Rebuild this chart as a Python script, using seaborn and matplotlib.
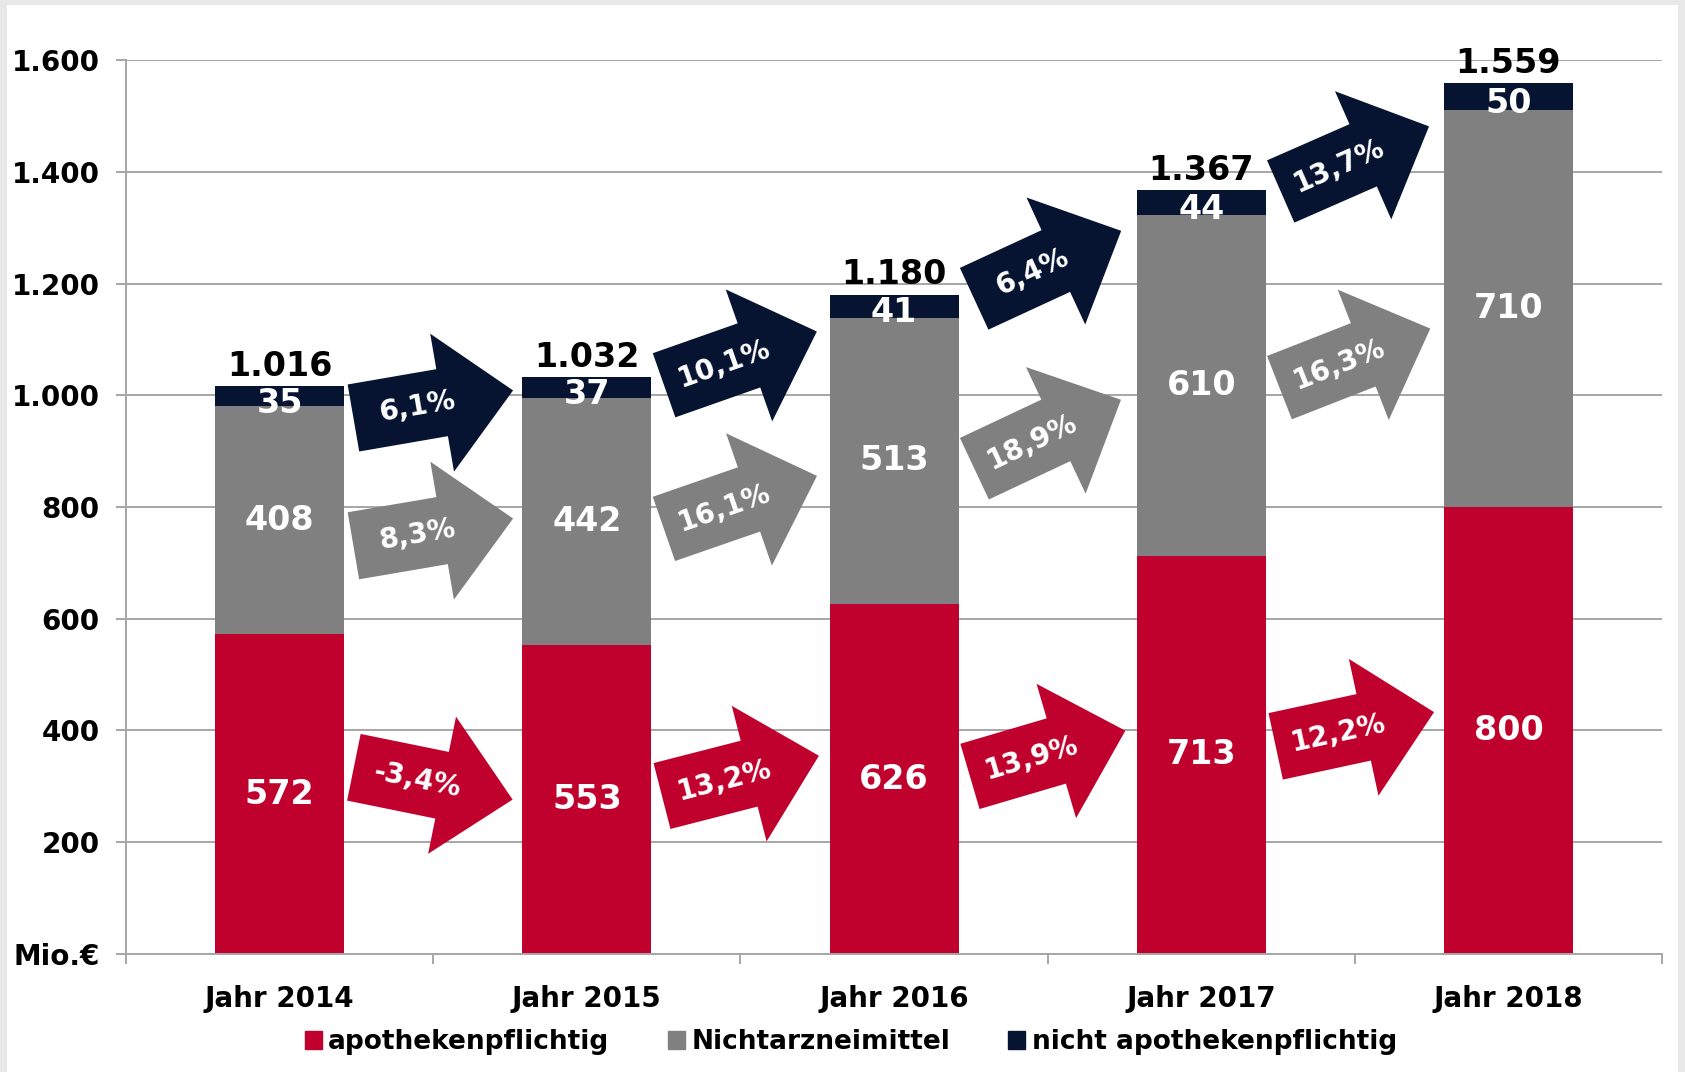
import matplotlib.pyplot as plt
import matplotlib.transforms as mtransforms
from matplotlib.patches import Polygon, Patch, Rectangle
import numpy as np
import pandas as pd
import seaborn as sns

# values (Mio. EUR)
years = ["Jahr 2014", "Jahr 2015", "Jahr 2016", "Jahr 2017", "Jahr 2018"]
apothekenpflichtig = [572, 553, 626, 713, 800]
nichtarzneimittel = [408, 442, 513, 610, 710]
nicht_apothekenpflichtig = [35, 37, 41, 44, 50]
totals = [1016, 1032, 1180, 1367, 1559]

# year-on-year growth shown in the arrows
growth_red = ["-3,4%", "13,2%", "13,9%", "12,2%"]
growth_gray = ["8,3%", "16,1%", "18,9%", "16,3%"]
growth_navy = ["6,1%", "10,1%", "6,4%", "13,7%"]

# arrow tilt in degrees (layout only)
tilt_red = [-11.5, 14.4, 16.4, 12.2]
tilt_gray = [9.7, 19.1, 25.2, 21.4]
tilt_navy = [9.8, 19.4, 24.8, 23.7]

RED = "#c0002d"
GRAY = "#808080"
NAVY = "#061431"
LINE = "#a6a6a6"

df = pd.DataFrame({
    "year": years,
    "apo": apothekenpflichtig,
    "nam": nichtarzneimittel,
    "nicht": nicht_apothekenpflichtig,
    "total": totals,
})
df["apo_nam"] = df["apo"] + df["nam"]

sns.set_style("white")
plt.rcParams["font.family"] = ["DejaVu Sans"]
plt.rcParams["text.color"] = "black"
plt.rcParams["xtick.color"] = "black"
plt.rcParams["ytick.color"] = "black"

fig = plt.figure(figsize=(16.85, 10.72), dpi=100, facecolor="#e8e8e8")
fig.add_artist(Rectangle((7 / 1685, 0), 1671 / 1685, 1067 / 1072,
                         transform=fig.transFigure, facecolor="white",
                         edgecolor="none", zorder=-1))
ax = fig.add_axes([0.0748, 0.1101, 0.9116, 0.8339])
ax.set_facecolor("none")

# stacked bars: draw cumulative heights from the top down
bar_kws = dict(width=0.42, linewidth=0, errorbar=None, saturation=1, ax=ax)
sns.barplot(data=df, x="year", y="total", color=NAVY, **bar_kws)
sns.barplot(data=df, x="year", y="apo_nam", color=GRAY, **bar_kws)
sns.barplot(data=df, x="year", y="apo", color=RED, **bar_kws)

ax.set_xlim(-0.5, 4.5)
ax.set_ylim(0, 1600)
ax.set_xlabel("")
ax.set_ylabel("")

# segment labels
seg_font = dict(color="white", fontsize=24, fontweight="bold", ha="center", va="center")
for i in range(len(years)):
    ax.text(i, df["apo"][i] / 2, str(df["apo"][i]), **seg_font)
    ax.text(i, df["apo"][i] + df["nam"][i] / 2, str(df["nam"][i]), **seg_font)
    ax.text(i, (df["apo_nam"][i] + df["total"][i]) / 2 - 12, str(df["nicht"][i]), **seg_font)
    ax.text(i, df["total"][i] + 6, f"{df['total'][i]:,}".replace(",", "."),
            color="black", fontsize=24, fontweight="bold", ha="center", va="bottom")


def block_arrow(x, y, angle, color, label):
    # arrow outline in points, centred on (0, 0), pointing right
    shape = np.array([[-81, -34], [9, -34], [9, -70], [81, 0],
                      [9, 70], [9, 34], [-81, 34]]) * 0.72
    trans = (mtransforms.Affine2D().rotate_deg(angle).scale(fig.dpi / 72)
             + mtransforms.ScaledTranslation(x, y, ax.transData))
    ax.add_artist(Polygon(shape, closed=True, facecolor=color, edgecolor="none",
                          transform=trans, zorder=4, clip_on=False))
    ax.text(-12, 0, label, transform=trans, rotation=angle, rotation_mode="anchor",
            ha="center", va="center", color="white", fontsize=20,
            fontweight="bold", zorder=5)


red_mid = df["apo"] / 2
gray_mid = df["apo"] + df["nam"] / 2
for i in range(len(years) - 1):
    xm = i + 0.5
    block_arrow(xm, (df["total"][i] + df["total"][i + 1]) / 2 - 40, tilt_navy[i], NAVY, growth_navy[i])
    block_arrow(xm, (gray_mid[i] + gray_mid[i + 1]) / 2 - 20, tilt_gray[i], GRAY, growth_gray[i])
    block_arrow(xm, (red_mid[i] + red_mid[i + 1]) / 2 + 24, tilt_red[i], RED, growth_red[i])

# y axis
yt = list(range(0, 1601, 200))
ax.set_yticks(yt)
ax.set_yticklabels(["Mio.€"] + [f"{v:,}".replace(",", ".") for v in yt[1:]],
                   fontsize=20, fontweight="bold")
ax.yaxis.grid(True, color=LINE, linewidth=1.4)
ax.set_axisbelow(True)
ax.tick_params(axis="y", left=True, length=7, width=1.4, color=LINE,
               labelcolor="black", pad=12)

# x axis: labels at bar centres, ticks at category boundaries
ax.set_xticks(range(len(years)))
ax.set_xticklabels(years, fontsize=20, fontweight="bold")
ax.set_xticks(np.arange(-0.5, len(years), 1), minor=True)
ax.tick_params(axis="x", which="major", bottom=False, length=0, pad=22, labelcolor="black")
ax.tick_params(axis="x", which="minor", bottom=True, length=7, width=1.4, color=LINE)

sns.despine(ax=ax, top=True, right=True)
for side in ["left", "bottom"]:
    ax.spines[side].set_color(LINE)
    ax.spines[side].set_linewidth(1.4)

handles = [Patch(color=RED, label="apothekenpflichtig"),
           Patch(color=GRAY, label="Nichtarzneimittel"),
           Patch(color=NAVY, label="nicht apothekenpflichtig")]
fig.legend(handles=handles, loc="center", bbox_to_anchor=(0.505, 0.028), ncol=3,
           frameon=False, prop={"size": 19, "weight": "bold"},
           handlelength=0.65, handleheight=0.65, handletextpad=0.25,
           columnspacing=2.2, labelcolor="black")

plt.savefig("out.png", dpi=100, facecolor=fig.get_facecolor())
